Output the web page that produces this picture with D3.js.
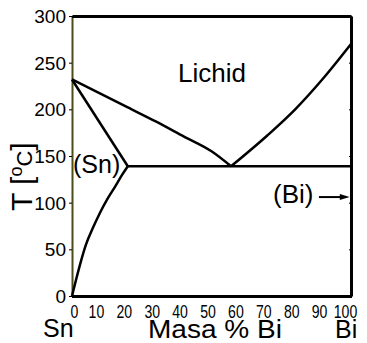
<!DOCTYPE html>
<html>
<head>
<meta charset="utf-8">
<script src="https://cdn.jsdelivr.net/npm/d3@7"></script>
<style>
  body { margin: 0; background: #fff; }
  text { font-family: "Liberation Sans", Arial, sans-serif; fill: #000; }
</style>
</head>
<body>
<div id="chart"></div>
<script>
// Diagrama de faze Sn-Bi (masa % Bi, temperatura in grade C)
const xTicks = [0, 10, 20, 30, 40, 50, 60, 70, 80, 90, 100];
const yTicks = [0, 50, 100, 150, 200, 250, 300];

// lichidus stanga (Sn -> eutectic)
const lichidSnX = [0, 10, 20, 30, 40, 50, 57];
const lichidSnT = [232, 217, 202, 187, 171, 155, 139];
// lichidus dreapta (eutectic -> Bi)
const lichidBiX = [57, 70, 80, 90, 100];
const lichidBiT = [139, 172, 200, 233, 270];
// solidus (Sn)
const solidusX = [0, 20];
const solidusT = [232, 139];
// solvus (Sn)
const solvusX = [0, 1.5, 3, 5, 7.5, 10, 12.5, 15.4, 18, 20];
const solvusT = [0, 18, 35, 55, 73, 89, 103, 117, 130, 139];
// palier eutectic
const eutecticX = [20, 100];
const eutecticT = [139, 139];

const width = 367;
const height = 343;
const marginLeft = 72, marginRight = 16, marginTop = 16, marginBottom = 47;

const x = d3.scaleLinear().domain([0, 100]).range([marginLeft, width - marginRight]);
const y = d3.scaleLinear().domain([0, 300]).range([height - marginBottom, marginTop]);

const svg = d3.select("#chart")
    .append("svg")
    .attr("width", width)
    .attr("height", height);

// axa Y (stanga) cu etichete
const yAxis = svg.append("g")
    .attr("transform", `translate(${marginLeft},0)`)
    .call(d3.axisLeft(y).tickValues(yTicks).tickSize(3).tickPadding(3).tickSizeOuter(0));
yAxis.select(".domain").attr("stroke", "#4d4d1a").attr("stroke-width", 2);
yAxis.selectAll("text").style("font-size", "19px").attr("dy", "0.35em");

// axa X (jos) cu etichete comprimate
const xAxis = svg.append("g")
    .attr("transform", `translate(0,${height - marginBottom})`)
    .call(d3.axisBottom(x).tickValues(xTicks).tickSize(2).tickPadding(7).tickSizeOuter(0));
xAxis.select(".domain").attr("stroke-width", 3);
xAxis.selectAll("text")
    .style("font-size", "19px")
    .attr("dx", d => d === 0 ? 2 : (d === 100 ? -6 : -4))
    .each(function() {
        const w = this.getComputedTextLength();
        d3.select(this).attr("textLength", w * 0.74).attr("lengthAdjust", "spacingAndGlyphs");
    });

// axa de sus si din dreapta (fara etichete, gradatii spre interior)
const topAxis = svg.append("g")
    .attr("transform", `translate(0,${marginTop})`)
    .call(d3.axisBottom(x).tickValues(xTicks).tickSize(2).tickFormat("").tickSizeOuter(0));
topAxis.select(".domain").attr("stroke-width", 3);

const rightAxis = svg.append("g")
    .attr("transform", `translate(${width - marginRight},0)`)
    .call(d3.axisLeft(y).tickValues(yTicks).tickSize(2).tickFormat("").tickSizeOuter(0));
rightAxis.select(".domain").attr("stroke-width", 3);

// liniile diagramei
const curves = [
    {xs: lichidSnX, ts: lichidSnT, curve: d3.curveMonotoneX},
    {xs: lichidBiX, ts: lichidBiT, curve: d3.curveMonotoneX},
    {xs: solidusX, ts: solidusT, curve: d3.curveLinear},
    {xs: solvusX, ts: solvusT, curve: d3.curveMonotoneX},
    {xs: eutecticX, ts: eutecticT, curve: d3.curveLinear}
];

curves.forEach(c => {
    const line = d3.line()
        .x(d => x(d[0]))
        .y(d => y(d[1]))
        .curve(c.curve);
    svg.append("path")
        .datum(c.xs.map((v, i) => [v, c.ts[i]]))
        .attr("d", line)
        .attr("fill", "none")
        .attr("stroke", "#000")
        .attr("stroke-width", 2.5)
        .attr("stroke-linejoin", "round");
});

// etichete din interior
svg.append("text")
    .attr("x", 178).attr("y", 82)
    .style("font-size", "26px")
    .text("Lichid");

svg.append("text")
    .attr("x", 73).attr("y", 173)
    .style("font-size", "25px")
    .text("(Sn)");

svg.append("text")
    .attr("x", 273).attr("y", 203)
    .style("font-size", "26px")
    .text("(Bi)");

// sageata spre Bi
svg.append("line")
    .attr("x1", x(88.5)).attr("x2", x(97))
    .attr("y1", y(106)).attr("y2", y(106))
    .attr("stroke", "#000").attr("stroke-width", 2);
svg.append("path")
    .attr("d", `M${x(99.5)},${y(106)} L${x(96)},${y(106) - 3} L${x(96)},${y(106) + 3} Z`)
    .attr("fill", "#000");

// titluri axe
const yTitle = svg.append("text")
    .attr("transform", "translate(32,211) rotate(-90)")
    .style("font-size", "30px");
yTitle.append("tspan").text("T [");
yTitle.append("tspan").style("font-size", "18px").attr("dy", -10).text("o");
yTitle.append("tspan").style("font-size", "22px").attr("dy", 10).text("C");
yTitle.append("tspan").text("]");

svg.append("text")
    .attr("x", 43).attr("y", 337)
    .style("font-size", "25px")
    .text("Sn");

svg.append("text")
    .attr("x", 148).attr("y", 338)
    .style("font-size", "25px")
    .attr("textLength", 134)
    .attr("lengthAdjust", "spacingAndGlyphs")
    .text("Masa % Bi");

svg.append("text")
    .attr("x", 335).attr("y", 338)
    .style("font-size", "25px")
    .text("Bi");
</script>
</body>
</html>
